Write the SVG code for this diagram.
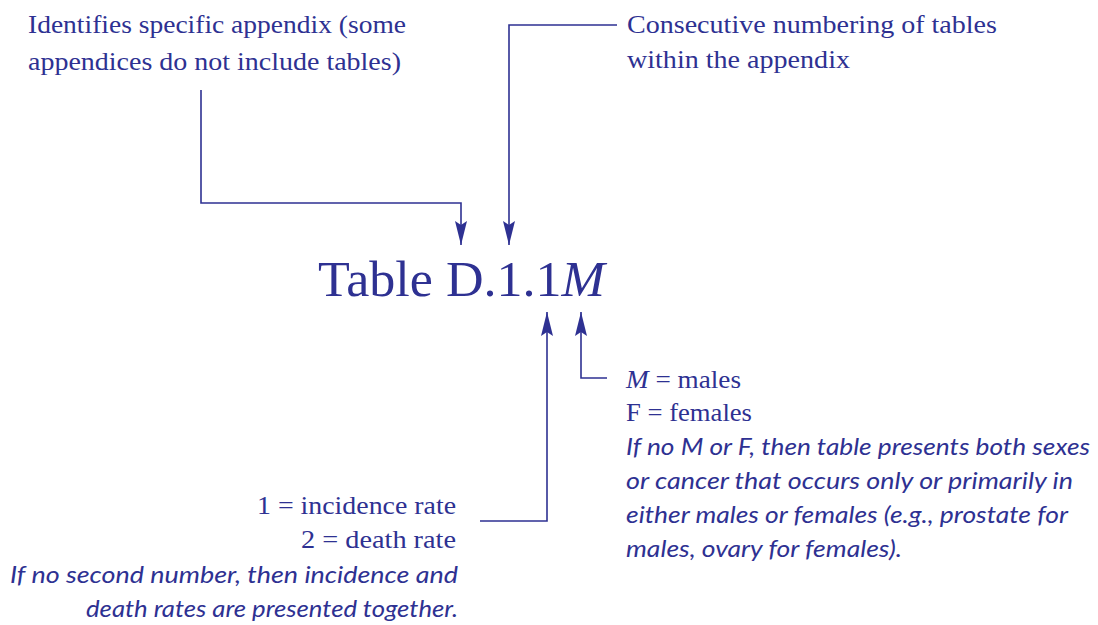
<svg xmlns="http://www.w3.org/2000/svg" width="1098" height="625" viewBox="0 0 1098 625">
<style>
.s{font-family:"Liberation Serif","DejaVu Serif",serif;font-size:25px;fill:#2e3192}
.i{font-family:Lato,"Open Sans",sans-serif;font-style:italic;font-size:23px;fill:#2e3192}
.c{fill:none;stroke:#2e3192;stroke-width:1.6}
</style>
<defs>
<marker id="ah" viewBox="0 0 24 12" refX="24" refY="6" markerWidth="24" markerHeight="12" markerUnits="userSpaceOnUse" orient="auto">
<path d="M0,0 L24,6 L0,12 L4,6 Z" fill="#2e3192"/>
</marker>
</defs>
<rect width="1098" height="625" fill="#fff"/>
<g id="connectors">
<path class="c" d="M201,90 V203 H461 V245" marker-end="url(#ah)"/>
<path class="c" d="M617,25 H509 V245" marker-end="url(#ah)"/>
<path class="c" d="M480,521 H547 V312" marker-end="url(#ah)"/>
<path class="c" d="M607,378 H581 V312" marker-end="url(#ah)"/>
</g>
<g id="title">
<text x="318" y="296" textLength="287" lengthAdjust="spacingAndGlyphs" style="font-family:'Liberation Serif',serif;font-size:50px;fill:#2e3192">Table D.1.1<tspan font-style="italic">M</tspan></text>
</g>
<g id="appendix-note">
<text class="s" x="28" y="33" textLength="378" lengthAdjust="spacingAndGlyphs">Identifies specific appendix (some</text>
<text class="s" x="28" y="70" textLength="373" lengthAdjust="spacingAndGlyphs">appendices do not include tables)</text>
</g>
<g id="numbering-note">
<text class="s" x="627" y="33" textLength="370" lengthAdjust="spacingAndGlyphs">Consecutive numbering of tables</text>
<text class="s" x="627" y="68" textLength="223" lengthAdjust="spacingAndGlyphs">within the appendix</text>
</g>
<g id="sex-note">
<text class="s" x="626" y="388" textLength="115" lengthAdjust="spacingAndGlyphs"><tspan font-style="italic">M</tspan> = males</text>
<text class="s" x="626" y="421" textLength="126" lengthAdjust="spacingAndGlyphs">F = females</text>
<text class="i" x="626" y="455" textLength="464" lengthAdjust="spacingAndGlyphs">If no M or F, then table presents both sexes</text>
<text class="i" x="626" y="489" textLength="447" lengthAdjust="spacingAndGlyphs">or cancer that occurs only or primarily in</text>
<text class="i" x="626" y="523" textLength="442" lengthAdjust="spacingAndGlyphs">either males or females (e.g., prostate for</text>
<text class="i" x="626" y="557" textLength="276" lengthAdjust="spacingAndGlyphs">males, ovary for females).</text>
</g>
<g id="rate-note">
<text class="s" x="257" y="514" textLength="199" lengthAdjust="spacingAndGlyphs">1 = incidence rate</text>
<text class="s" x="301" y="548" textLength="155" lengthAdjust="spacingAndGlyphs">2 = death rate</text>
<text class="i" x="10" y="583" textLength="448" lengthAdjust="spacingAndGlyphs">If no second number, then incidence and</text>
<text class="i" x="86" y="617" textLength="372" lengthAdjust="spacingAndGlyphs">death rates are presented together.</text>
</g>
</svg>
